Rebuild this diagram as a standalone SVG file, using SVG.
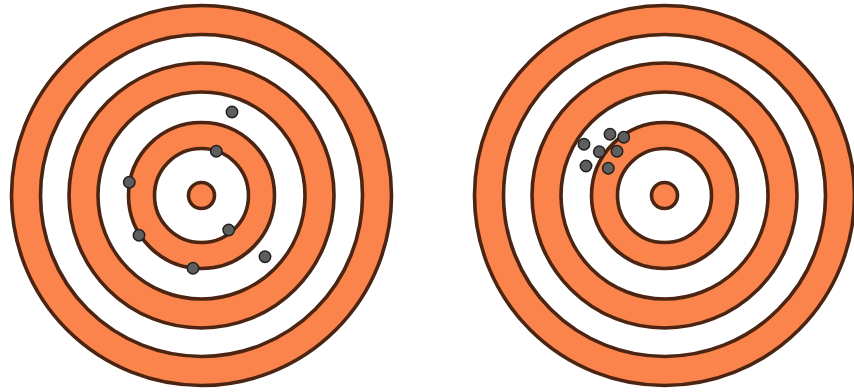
<svg xmlns="http://www.w3.org/2000/svg" width="854" height="392" viewBox="0 0 854 392">
<style>
.o{fill:#FA844C;stroke:#4B2412;stroke-width:3.6}
.w{fill:#FFFFFF;stroke:#4B2412;stroke-width:3.6}
.d{fill:#5E5E5E;stroke:#202020;stroke-width:1.5}
</style>
<defs>
<g id="target">
<circle class="o" r="190"/>
<circle class="w" r="161"/>
<circle class="o" r="132.5"/>
<circle class="w" r="103.5"/>
<circle class="o" r="73"/>
<circle class="w" r="47"/>
<circle class="o" r="13"/>
</g>
</defs>
<rect width="854" height="392" fill="#FFFFFF"/>
<g id="target-left"><use href="#target" x="201.5" y="195.5"/></g>
<g id="target-right"><use href="#target" x="664.5" y="195.5"/></g>
<g id="shots-left">
<circle class="d" cx="232" cy="112" r="5.7"/>
<circle class="d" cx="216.3" cy="151.3" r="5.7"/>
<circle class="d" cx="129.3" cy="182.3" r="5.7"/>
<circle class="d" cx="139" cy="235.3" r="5.7"/>
<circle class="d" cx="228.7" cy="230" r="5.7"/>
<circle class="d" cx="265" cy="256.7" r="5.7"/>
<circle class="d" cx="193" cy="268.3" r="5.7"/>
</g>
<g id="shots-right">
<circle class="d" cx="610" cy="134.3" r="5.7"/>
<circle class="d" cx="623.7" cy="137.3" r="5.7"/>
<circle class="d" cx="584" cy="144.3" r="5.7"/>
<circle class="d" cx="599.3" cy="151.7" r="5.7"/>
<circle class="d" cx="617" cy="151.3" r="5.7"/>
<circle class="d" cx="586" cy="166" r="5.7"/>
<circle class="d" cx="608.3" cy="168.3" r="5.7"/>
</g>
</svg>
